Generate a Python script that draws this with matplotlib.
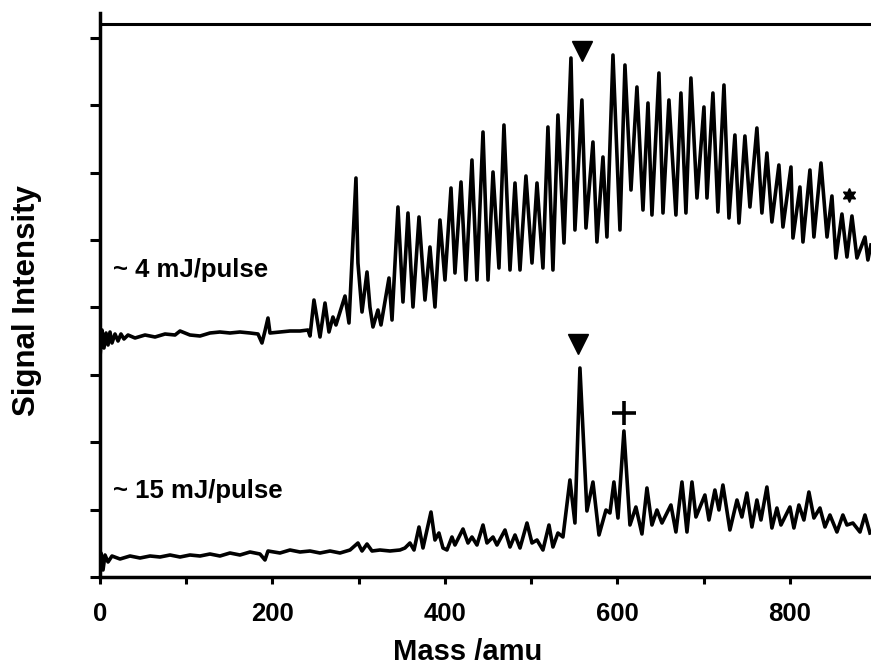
import matplotlib
matplotlib.use("Agg")
import matplotlib.pyplot as plt
from matplotlib.ticker import FixedLocator, NullFormatter

plt.rcParams['font.family'] = ['Liberation Sans', 'DejaVu Sans']
plt.rcParams['font.weight'] = 'bold'

# ---- data (mass in amu, signal in arbitrary units) ----
upper_mass = [0, 2.3, 4.6, 7.0, 9.3, 11.6, 13.9, 17.4, 20.9, 24.3, 27.8, 32.5, 40.6, 52.2, 63.8, 75.4,
              87.0, 92.8, 104.3, 116, 127.5, 139, 150.7, 162.3, 174, 183.2, 187.8, 191.3, 194.8, 197.1,
              208.7, 220.3, 231.9, 241.2, 243.5, 248.1, 255.1, 260.9, 265.5, 270.1, 273.6, 284.1, 288.7,
              296.8, 299.1, 303.8, 309.6, 313.0, 316.5, 322.3, 325.8, 335.1, 338.6, 345.5, 351.3, 357.1,
              362.9, 369.9, 376.8, 382.6, 388.4, 394.2, 400, 407.0, 411.6, 418.6, 424.3, 431.3, 437.1,
              444.1, 449.9, 455.7, 462.6, 468.4, 475.4, 481.2, 487, 493.9, 500.9, 506.7, 513.6, 519.4,
              525.2, 531.0, 538.0, 546.1, 550.7, 558.8, 563.5, 571.6, 576.2, 583.2, 587.8, 594.8, 602.9,
              608.7, 615.7, 622.6, 629.6, 635.4, 640.0, 648.1, 652.8, 659.7, 667.8, 673.6, 679.4, 685.2,
              692.2, 700.3, 703.8, 710.7, 716.5, 723.5, 729.3, 736.2, 740.9, 747.8, 753.6, 761.7, 767.5,
              773.3, 779.1, 787.2, 791.9, 801.2, 803.5, 811.6, 815.1, 823.2, 827.8, 836.0, 843.0, 848.7,
              853.3, 860.3, 866.1, 871.9, 877.7, 887.0, 890.4, 893.9]
upper_signal = [220, 247, 229, 244, 232, 245, 234, 243, 236, 243, 238, 242, 239, 242, 240, 243,
                242, 246, 242, 241, 244, 245, 244, 245, 244, 243, 234, 246, 259, 244,
                245, 246, 246, 247, 241, 277, 240, 274, 245, 260, 252, 281, 254,
                399, 314, 265, 305, 270, 250, 267, 252, 299, 257, 370, 275, 364,
                270, 360, 277, 330, 270, 357, 297, 389, 304, 395, 297, 417, 297,
                445, 297, 405, 309, 452, 307, 394, 307, 401, 314, 394, 309, 450,
                307, 462, 334, 519, 347, 477, 349, 435, 335, 420, 340, 522, 347,
                512, 387, 490, 367, 474, 362, 504, 364, 477, 362, 484, 364, 499,
                379, 470, 379, 484, 365, 492, 359, 442, 354, 441, 370, 449, 364,
                424, 355, 412, 350, 410, 339, 390, 335, 407, 340, 414, 340, 381,
                319, 363, 320, 361, 319, 340, 317, 332]

lower_mass = [0, 1.2, 3.5, 5.8, 9.3, 13.9, 23.2, 34.8, 46.4, 58.0, 69.6, 81.2, 92.8, 104.3, 116,
              127.5, 139.1, 150.7, 162.3, 173.9, 185.5, 191.3, 194.8, 208.7, 220.3, 231.9, 243.5,
              255.1, 266.7, 278.3, 289.9, 299.1, 303.8, 309.6, 315.4, 324.6, 336.2, 347.8, 353.6,
              359.4, 364.1, 369.9, 374.5, 383.8, 388.4, 393.0, 397.7, 402.3, 408.1, 411.6, 420.9,
              426.7, 431.3, 437.1, 444.1, 448.7, 455.7, 460.3, 469.6, 475.4, 481.2, 487.0, 495.1,
              500.9, 506.7, 513.6, 520.6, 525.2, 531.0, 536.8, 544.9, 550.7, 556.5, 564.6, 571.6,
              578.6, 586.7, 591.3, 595.9, 600.6, 607.5, 614.5, 621.4, 628.4, 634.2, 640.0, 645.8,
              651.6, 662.0, 667.8, 674.8, 680.6, 686.4, 691.0, 701.4, 706.1, 713.0, 717.7, 722.3,
              730.4, 738.6, 744.3, 750.1, 755.9, 761.7, 766.4, 773.3, 779.1, 784.9, 789.6, 800.0,
              804.6, 810.4, 816.2, 822.0, 827.8, 834.8, 840.6, 846.4, 854.5, 861.4, 866.1, 873.0,
              881.2, 887.0, 892.8]
lower_signal = [0, 24, 7, 22, 15, 21, 18, 21, 19, 21, 20, 22, 20, 22, 21,
                23, 21, 24, 22, 25, 23, 17, 26, 24, 27, 25, 26,
                24, 26, 24, 27, 34, 26, 33, 26, 27, 26, 27, 29,
                34, 27, 50, 29, 65, 37, 44, 29, 27, 40, 32, 48,
                34, 40, 32, 52, 34, 40, 32, 47, 30, 42, 29, 54,
                34, 37, 27, 52, 30, 44, 40, 97, 54, 209, 66, 95,
                42, 67, 64, 95, 59, 146, 52, 70, 43, 89, 52, 67,
                54, 72, 45, 95, 45, 95, 60, 82, 57, 87, 67, 92,
                47, 77, 60, 84, 50, 77, 57, 90, 49, 69, 52, 70,
                49, 72, 57, 85, 59, 69, 50, 62, 45, 62, 52, 54,
                45, 62, 44]

tri_mass = [558.8, 554.2]
tri_signal = [526, 233]
plus_mass = [608]
plus_signal = [164]
star_mass = [868.5]
star_signal = [382]

label_texts = ["~ 4 mJ/pulse", "~ 15 mJ/pulse"]
label_mass = [15, 15]
label_signal = [307, 86]

x_major = [0, 200, 400, 600, 800]
x_minor = [100, 300, 500, 700]
y_ticks = [0, 67.4, 134.8, 202.2, 269.6, 337.0, 404.4, 471.8, 539.2]

# ---- figure ----
fig = plt.figure(figsize=(8.71, 6.68), dpi=100)
ax = fig.add_axes([100/871, (668-577)/668, 771/871, (577-13)/668])
ax.set_xlim(0, 894)
ax.set_ylim(0, 564)

lw = 2.6
ax.plot(upper_mass, upper_signal, color='black', lw=lw, solid_joinstyle='round')
ax.plot(lower_mass, lower_signal, color='black', lw=lw, solid_joinstyle='round')

ax.plot(tri_mass, tri_signal, ls='none', marker='v', ms=15, color='black')
ax.plot(plus_mass, plus_signal, ls='none', marker='+', ms=17, mew=2.6, color='black')
ax.plot(star_mass, star_signal, ls='none', marker=(6, 1, 0), ms=10, color='black')

for t, m, s in zip(label_texts, label_mass, label_signal):
    ax.text(m, s, t, fontsize=18.5, fontweight='bold', ha='left', va='center')

# frame
for side in ['top', 'right']:
    ax.spines[side].set_visible(False)
for side in ['left', 'bottom']:
    ax.spines[side].set_linewidth(2.5)
ax.axhline(553, color='black', lw=2.2)

ax.xaxis.set_major_locator(FixedLocator(x_major))
ax.xaxis.set_minor_locator(FixedLocator(x_minor))
ax.set_xticklabels([str(v) for v in x_major])
ax.tick_params(axis='x', which='both', direction='out', length=5, width=2.2, pad=13,
               labelsize=18.5)
for lab in ax.get_xticklabels():
    lab.set_fontweight('bold')
ax.yaxis.set_major_locator(FixedLocator(y_ticks))
ax.yaxis.set_major_formatter(NullFormatter())
ax.tick_params(axis='y', which='both', direction='out', length=7.5, width=2.2)

fig.text(468/871, (668-660)/668, "Mass /amu", ha='center', va='baseline',
         fontsize=21, fontweight='bold')
fig.text(27/871, 1-301/668, "Signal Intensity", ha='center', va='center', rotation=90,
         fontsize=22.5, fontweight='bold')

fig.savefig("out.png", dpi=100, facecolor='white')
